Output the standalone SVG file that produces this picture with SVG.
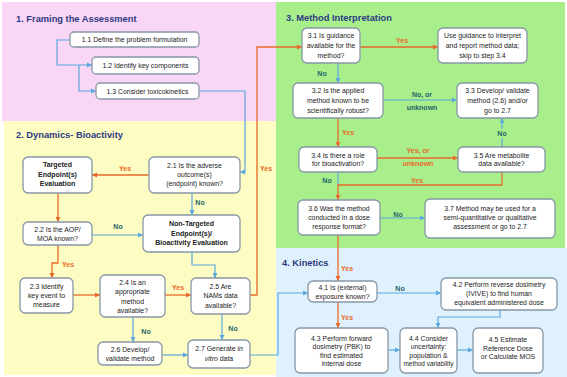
<svg xmlns="http://www.w3.org/2000/svg" width="567" height="377" viewBox="0 0 567 377">
<defs>
<marker id="ab" markerWidth="6" markerHeight="6" refX="5" refY="3" orient="auto" markerUnits="userSpaceOnUse"><path d="M0,0.5 L5,3 L0,5.5 Z" fill="#5aa8df"/></marker>
<marker id="ao" markerWidth="6" markerHeight="6" refX="5" refY="3" orient="auto" markerUnits="userSpaceOnUse"><path d="M0,0.5 L5,3 L0,5.5 Z" fill="#e8692a"/></marker>
<style>
.box{fill:#fff;stroke:#8797a6;stroke-width:1.3}
.t{font-family:"Liberation Sans",Arial,sans-serif;font-size:6.9px;fill:#222;text-anchor:middle}
.tb{font-family:"Liberation Sans",Arial,sans-serif;font-size:7px;font-weight:bold;fill:#222;text-anchor:middle}
.h{font-family:"Liberation Sans",Arial,sans-serif;font-size:9.3px;font-weight:bold;fill:#2e3a82}
.b{fill:none;stroke:#5aa8df;stroke-width:1.2;marker-end:url(#ab)}
.bn{fill:none;stroke:#5aa8df;stroke-width:1.2}
.o{fill:none;stroke:#e8692a;stroke-width:1.3;marker-end:url(#ao)}
.on{fill:none;stroke:#e8692a;stroke-width:1.3}
.y{font-family:"Liberation Sans",Arial,sans-serif;font-size:7px;font-weight:bold;fill:#e8692a;text-anchor:middle}
.n{font-family:"Liberation Sans",Arial,sans-serif;font-size:7px;font-weight:bold;fill:#25646a;text-anchor:middle}
</style>
</defs>
<rect width="567" height="377" fill="#fff"/>
<rect x="2" y="2" width="274" height="119" fill="#f9d6f6"/>
<rect x="4" y="121" width="272" height="254" fill="#fdfcc2"/>
<rect x="276" y="2" width="289" height="246" fill="#a8ef8c"/>
<rect x="276" y="248" width="291" height="129" fill="#def1fc"/>
<text class="h" x="16" y="22">1. Framing the Assessment</text>
<text class="h" x="16" y="138">2. Dynamics- Bioactivity</text>
<text class="h" x="286" y="21">3. Method Interpretation</text>
<text class="h" x="282" y="266">4. Kinetics</text>

<g id="connectors">
<polyline class="b" points="70,40 57,40 57,65 92,65"/>
<polyline class="b" points="79,65 79,91 96,91"/>
<polyline class="b" points="199,91 245,91 245,172 240,172"/>
<polyline class="b" points="192,193 192,215"/>
<polyline class="b" points="92,235 143,235"/>
<polyline class="b" points="192,252 192,265 215,265 215,278"/>
<polyline class="b" points="133,317 133,342"/>
<polyline class="b" points="162,355 188,355"/>
<polyline class="b" points="222,314 222,340"/>
<polyline class="b" points="250,355 278,355 278,293 308,293"/>
<polyline class="b" points="338,63 338,83"/>
<polyline class="b" points="383,100 457,100"/>
<polyline class="b" points="502,147 502,118"/>
<polyline class="bn" points="338,172 338,185"/>
<polyline class="b" points="380,218 425,218"/>
<polyline class="b" points="377,293 441,293"/>
<polyline class="b" points="500,310 500,317 438,317 438,328"/>
<polyline class="b" points="388,350 400,350"/>
<polyline class="b" points="457,350 473,350"/>
<polyline class="o" points="149,175 92,175"/>
<polyline class="o" points="58,193 58,222"/>
<polyline class="o" points="58,245 58,263 52,263 52,278"/>
<polyline class="o" points="73,295 100,295"/>
<polyline class="o" points="165,295 191,295"/>
<polyline class="o" points="250,295 257,295 257,47 302,47"/>
<polyline class="o" points="360,47 438,47"/>
<polyline class="o" points="338,118 338,147"/>
<polyline class="o" points="377,158 458,158"/>
<polyline class="o" points="502,172 502,185 338,185 338,200"/>
<polyline class="o" points="338,235 338,281"/>
<polyline class="o" points="338,302 338,328"/>
</g>

<g id="labels">
<text class="y" x="125" y="171">Yes</text>
<text class="y" x="266" y="171">Yes</text>
<text class="y" x="68" y="267">Yes</text>
<text class="y" x="178" y="290">Yes</text>
<text class="y" x="402" y="43">Yes</text>
<text class="y" x="348" y="135">Yes</text>
<text class="y" x="418" y="153">Yes, or</text>
<text class="y" x="418" y="166">unknown</text>
<text class="y" x="417" y="183">Yes</text>
<text class="y" x="347" y="271">Yes</text>
<text class="y" x="347" y="320">Yes</text>
<text class="n" x="200" y="205">No</text>
<text class="n" x="118" y="229">No</text>
<text class="n" x="146" y="334">No</text>
<text class="n" x="233" y="331">No</text>
<text class="n" x="322" y="76">No</text>
<text class="n" x="422" y="97">No, or</text>
<text class="n" x="422" y="110">unknown</text>
<rect x="495" y="129" width="14" height="9" fill="#a8ef8c"/>
<text class="n" x="502" y="136">No</text>
<text class="n" x="327" y="183">No</text>
<text class="n" x="398" y="217">No</text>
<text class="n" x="400" y="291">No</text>
</g>

<g id="n11"><rect class="box" x="70" y="32" width="129" height="15" rx="4"/><text class="t" x="134.5" y="42">1.1 Define the problem formulation</text></g>
<g id="n12"><rect class="box" x="92" y="57" width="107" height="17" rx="4"/><text class="t" x="145.5" y="68">1.2 Identify key components</text></g>
<g id="n13"><rect class="box" x="96" y="83" width="103" height="16" rx="4"/><text class="t" x="147.5" y="93.5">1.3 Consider toxicokinetics</text></g>

<g id="targeted"><rect class="box" x="23" y="157" width="69" height="36" rx="5"/><text class="tb"><tspan x="57.5" y="167">Targeted</tspan><tspan x="57.5" y="176.5">Endpoint(s)</tspan><tspan x="57.5" y="186">Evaluation</tspan></text></g>
<g id="n21"><rect class="box" x="149" y="157" width="91" height="36" rx="5"/><text class="t"><tspan x="194.5" y="168">2.1 Is the adverse</tspan><tspan x="194.5" y="177">outcome(s)</tspan><tspan x="194.5" y="186">(endpoint) known?</tspan></text></g>
<g id="nontargeted"><rect class="box" x="143" y="215" width="97" height="37" rx="5"/><text class="tb"><tspan x="191.5" y="226">Non-Targeted</tspan><tspan x="191.5" y="235.5">Endpoint(s)/</tspan><tspan x="191.5" y="245">Bioactivity Evaluation</tspan></text></g>
<g id="n22"><rect class="box" x="23" y="222" width="69" height="23" rx="5"/><text class="t"><tspan x="57.5" y="232">2.2 Is the AOP/</tspan><tspan x="57.5" y="240.5">MOA known?</tspan></text></g>
<g id="n23"><rect class="box" x="20" y="278" width="53" height="35" rx="5"/><text class="t"><tspan x="46.5" y="289">2.3 Identify</tspan><tspan x="46.5" y="298">key event to</tspan><tspan x="46.5" y="307">measure</tspan></text></g>
<g id="n24"><rect class="box" x="100" y="275" width="65" height="42" rx="5"/><text class="t"><tspan x="132.5" y="284.5">2.4 Is an</tspan><tspan x="132.5" y="294">appropriate</tspan><tspan x="132.5" y="303.5">method</tspan><tspan x="132.5" y="313">available?</tspan></text></g>
<g id="n25"><rect class="box" x="191" y="278" width="59" height="36" rx="5"/><text class="t"><tspan x="220.5" y="288.5">2.5 Are</tspan><tspan x="220.5" y="298">NAMs data</tspan><tspan x="220.5" y="307.5">available?</tspan></text></g>
<g id="n26"><rect class="box" x="98" y="342" width="64" height="23" rx="5"/><text class="t"><tspan x="130" y="351.5">2.6 Develop/</tspan><tspan x="130" y="360.5">validate method</tspan></text></g>
<g id="n27"><rect class="box" x="188" y="340" width="62" height="28" rx="5"/><text class="t"><tspan x="219" y="351">2.7 Generate <tspan font-style="italic">in</tspan></tspan><tspan x="219" y="361"><tspan font-style="italic">vitro</tspan> data</tspan></text></g>

<g id="n31"><rect class="box" x="302" y="28" width="58" height="35" rx="5"/><text class="t"><tspan x="331" y="38">3.1 Is guidance</tspan><tspan x="331" y="48">available for the</tspan><tspan x="331" y="58">method?</tspan></text></g>
<g id="guidance"><rect class="box" x="438" y="28" width="89" height="35" rx="5"/><text class="t"><tspan x="482.5" y="38">Use guidance to interpret</tspan><tspan x="482.5" y="48">and report method data;</tspan><tspan x="482.5" y="58">skip to step 3.4</tspan></text></g>
<g id="n32"><rect class="box" x="293" y="83" width="90" height="35" rx="5"/><text class="t"><tspan x="338" y="93">3.2 Is the applied</tspan><tspan x="338" y="103">method known to be</tspan><tspan x="338" y="113">scientifically robust?</tspan></text></g>
<g id="n33"><rect class="box" x="457" y="83" width="81" height="35" rx="5"/><text class="t"><tspan x="497.5" y="93">3.3 Develop/ validate</tspan><tspan x="497.5" y="103">method (2.6) and/or</tspan><tspan x="497.5" y="113">go to 2.7</tspan></text></g>
<g id="n34"><rect class="box" x="299" y="147" width="78" height="25" rx="5"/><text class="t"><tspan x="338" y="157.5">3.4 Is there a role</tspan><tspan x="338" y="166">for bioactivation?</tspan></text></g>
<g id="n35"><rect class="box" x="458" y="147" width="87" height="25" rx="5"/><text class="t"><tspan x="501.5" y="157.5">3.5 Are metabolite</tspan><tspan x="501.5" y="166">data available?</tspan></text></g>
<g id="n36"><rect class="box" x="298" y="200" width="82" height="35" rx="5"/><text class="t"><tspan x="339" y="211">3.6 Was the method</tspan><tspan x="339" y="220">conducted in a dose</tspan><tspan x="339" y="229">response format?</tspan></text></g>
<g id="n37"><rect class="box" x="425" y="199" width="130" height="39" rx="5"/><text class="t"><tspan x="490" y="211">3.7 Method may be used for a</tspan><tspan x="490" y="220">semi-quantitative  or qualitative</tspan><tspan x="490" y="229">assessment or go to 2.7</tspan></text></g>

<g id="n41"><rect class="box" x="308" y="281" width="69" height="21" rx="5"/><text class="t"><tspan x="342.5" y="289.5">4.1 Is (external)</tspan><tspan x="342.5" y="298.5">exposure known?</tspan></text></g>
<g id="n42"><rect class="box" x="441" y="278" width="116" height="32" rx="5"/><text class="t"><tspan x="499" y="287">4.2 Perform reverse dosimetry</tspan><tspan x="499" y="296">(IVIVE) to find human</tspan><tspan x="499" y="305">equivalent  administered dose</tspan></text></g>
<g id="n43"><rect class="box" x="295" y="328" width="93" height="45" rx="5"/><text class="t"><tspan x="341.5" y="340.5">4.3 Perform forward</tspan><tspan x="341.5" y="349">dosimetry (PBK) to</tspan><tspan x="341.5" y="357.5">find estimated</tspan><tspan x="341.5" y="366">internal dose</tspan></text></g>
<g id="n44"><rect class="box" x="400" y="328" width="57" height="45" rx="5"/><text class="t"><tspan x="428.5" y="340.5">4.4 Consider</tspan><tspan x="428.5" y="349">uncertainty:</tspan><tspan x="428.5" y="357.5">population &amp;</tspan><tspan x="428.5" y="366" textLength="50" lengthAdjust="spacingAndGlyphs">method variability</tspan></text></g>
<g id="n45"><rect class="box" x="473" y="328" width="70" height="45" rx="5"/><text class="t"><tspan x="508" y="342">4.5 Estimate</tspan><tspan x="508" y="350.5">Reference Dose</tspan><tspan x="508" y="359">or Calculate MOS</tspan></text></g>
</svg>
